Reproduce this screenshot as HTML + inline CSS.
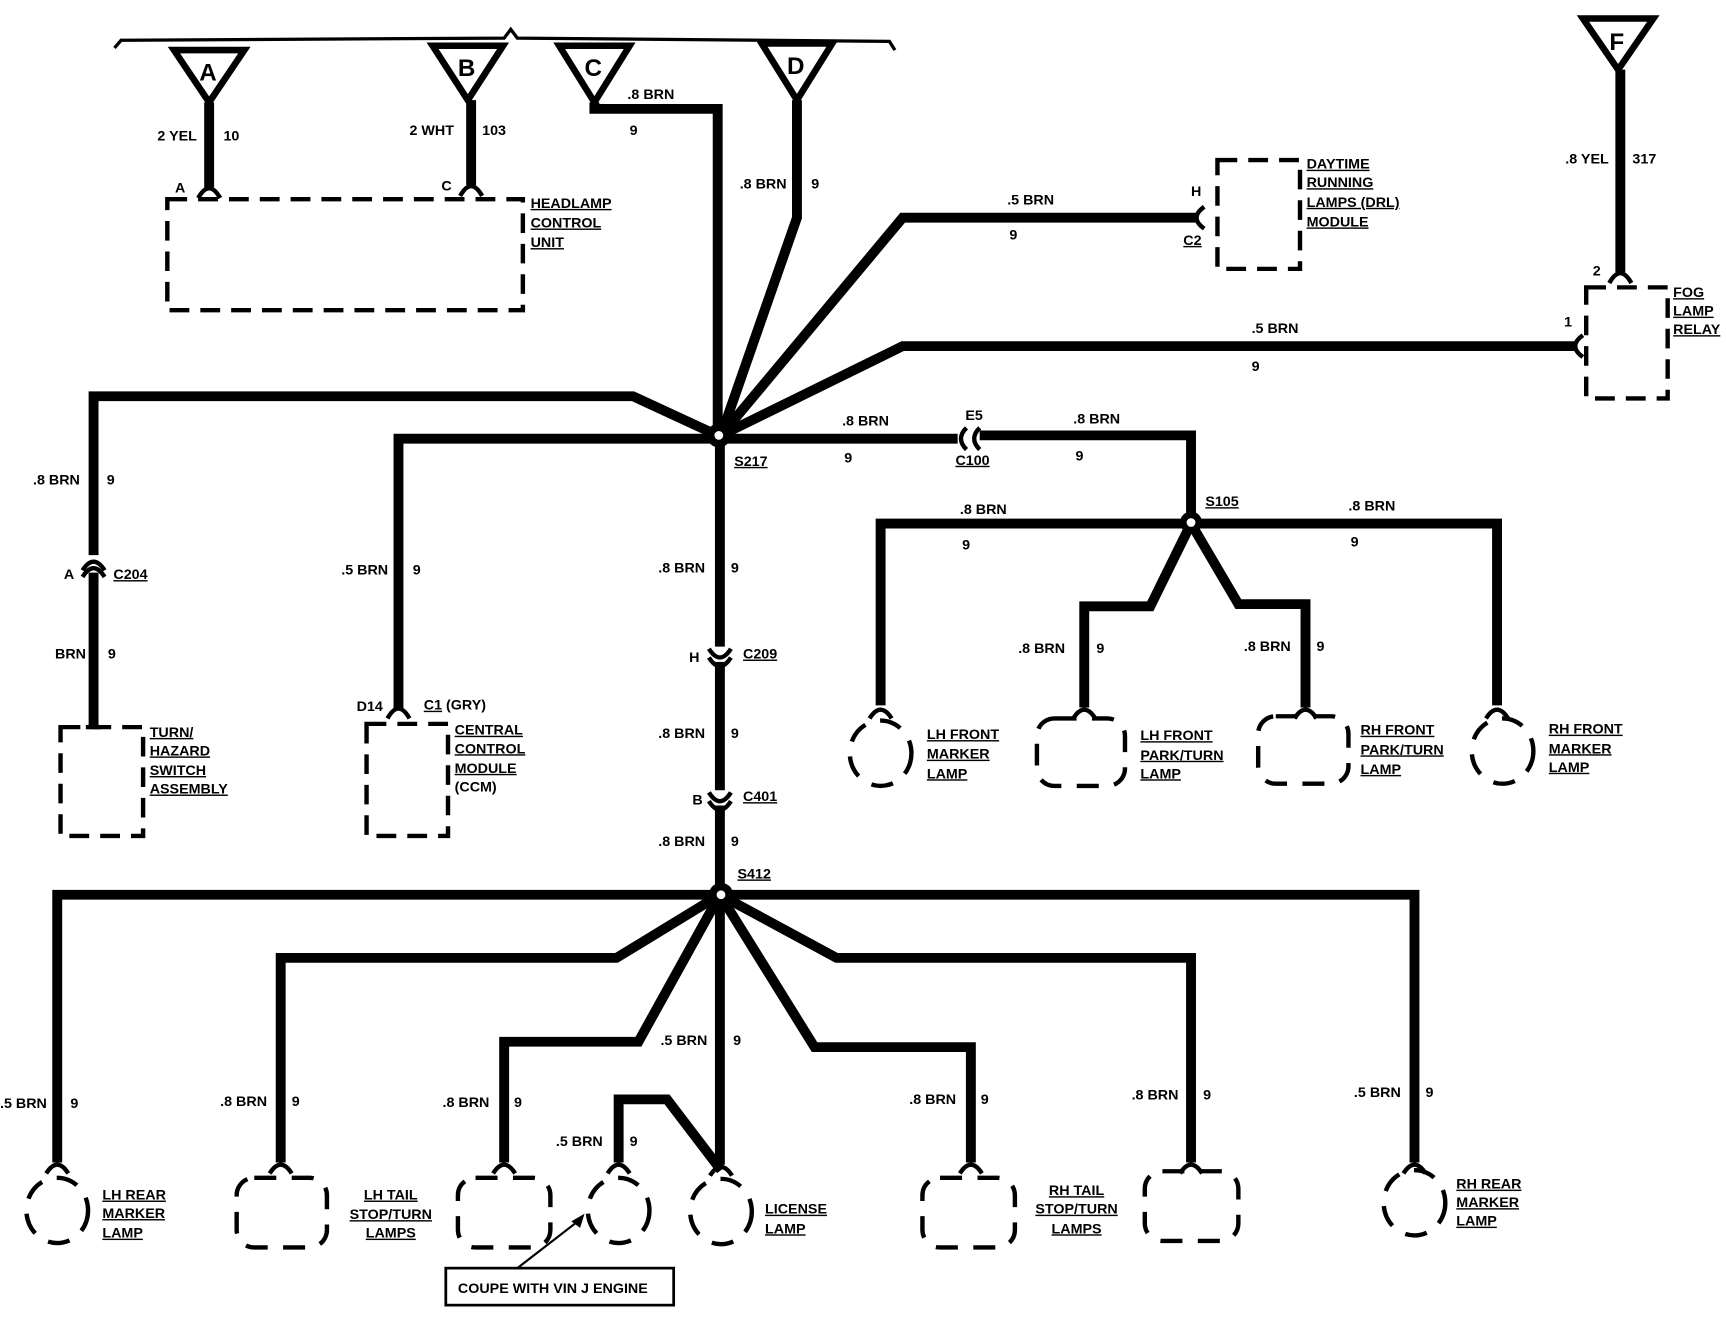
<!DOCTYPE html>
<html><head><meta charset="utf-8"><style>
html,body{margin:0;padding:0;background:#fff;}
svg{display:block;}
text{font-family:"Liberation Sans",sans-serif;font-weight:bold;font-size:13px;fill:#000;}
.u{text-decoration:underline;}
.w{fill:none;stroke:#000;stroke-width:9;stroke-linejoin:miter;}
.d{fill:none;stroke:#000;stroke-width:4;stroke-dasharray:18 10;}
.c{fill:none;stroke:#000;stroke-width:4;}
</style></head><body>
<svg width="1726" height="1328" viewBox="0 0 1568 1220" preserveAspectRatio="none" xmlns="http://www.w3.org/2000/svg">
<!-- top bus -->
<path d="M104,44 L110,37 L458,35 L464,27 L470,35 L808,38 L813,46" fill="none" stroke="#000" stroke-width="3"/>
<!-- triangles -->
<g fill="none" stroke="#000" stroke-width="6">
<path d="M158,46 L222,46 L190,94 Z"/><path d="M393,42 L457,42 L425,92 Z"/>
<path d="M508,42 L572,42 L540,94 Z"/><path d="M692,40 L756,40 L724,92 Z"/>
<path d="M1438,17 L1502,17 L1470,64 Z"/>
</g>
<g font-size="22"><text x="181" y="74" style="font-size:22px">A</text><text x="416" y="70" style="font-size:22px">B</text><text x="531" y="70" style="font-size:22px">C</text><text x="715" y="68" style="font-size:22px">D</text><text x="1462" y="46" style="font-size:22px">F</text></g>
<!-- wires -->
<path class="w" d="M190,94 V172"/><path class="w" d="M428,92 V170"/>
<path class="w" d="M540,94 V100 H652 V400"/>
<path class="w" d="M724,92 V200 L655,400"/>
<path class="w" d="M655,400 L820,200 H1086"/>
<path class="w" d="M655,400 L820,318 H1430"/>
<path class="w" d="M1472,64 V250"/>
<path class="w" d="M652,400 L575,364 H85 V510"/><path class="w" d="M85,526 V668"/>
<path class="w" d="M652,403 H362 V652"/>
<path class="w" d="M654,400 V594"/><path class="w" d="M654,608 V726"/><path class="w" d="M654,740 V822"/>
<path class="w" d="M654,403 H870"/><path class="w" d="M890,400 H1082 V480"/>
<path class="w" d="M1082,481 H800 V648"/><path class="w" d="M1082,481 H1360 V648"/>
<path class="w" d="M1082,481 L1045,557 H985 V650"/><path class="w" d="M1082,481 L1125,555 H1186 V650"/>
<path class="w" d="M654,822 H52 V1068"/>
<path class="w" d="M654,822 L560,880 H255 V1068"/>
<path class="w" d="M654,822 L580,957 H458 V1068"/>
<path class="w" d="M654,822 V1070"/>
<path class="w" d="M562,1068 V1010 H606 L655,1075"/>
<path class="w" d="M654,822 L740,962 H882 V1068"/>
<path class="w" d="M654,822 L760,880 H1082 V1068"/>
<path class="w" d="M654,822 H1285 V1068"/>
<!-- splices -->
<g fill="#000"><circle cx="653" cy="400" r="11"/><circle cx="1082" cy="480" r="10"/><circle cx="655" cy="822" r="11"/></g>
<g fill="#fff"><circle cx="653" cy="400" r="4"/><circle cx="1082" cy="480" r="4"/><circle cx="655" cy="822" r="4"/></g>
<!-- connectors ^ -->
<g class="c">
<path d="M180,182 Q190,164 200,182"/><path d="M418,180 Q428,162 438,180"/>
<path d="M1462,260 Q1472,242 1482,260"/>
<path d="M352,660 Q362,642 372,660"/>
<path d="M75,524 Q85,508 95,524"/><path d="M75,530 Q85,514 95,530"/>
<path d="M644,596 Q654,612 664,596"/><path d="M644,604 Q654,620 664,604"/>
<path d="M644,728 Q654,744 664,728"/><path d="M644,736 Q654,752 664,736"/>
<path d="M1094,190 Q1080,200 1094,210"/><path d="M1438,308 Q1424,318 1438,328"/>
<path d="M878,393 Q868,403 878,413"/><path d="M890,393 Q880,403 890,413"/>
</g>
<path d="M78,668 H92" stroke="#000" stroke-width="4"/>
<!-- device boxes -->
<rect class="d" x="152" y="183" width="323" height="102"/>
<rect class="d" x="1106" y="147" width="75" height="100"/>
<rect class="d" x="1441" y="264" width="74" height="102"/>
<rect class="d" x="55" y="668" width="75" height="100"/>
<rect class="d" x="333" y="665" width="74" height="103"/>
<!-- lamps -->
<g class="c">
<path d="M790,660 Q800,644 810,660"/><path d="M975,660 Q985,644 995,660"/><path d="M1176,660 Q1186,644 1196,660"/><path d="M1350,660 Q1360,644 1370,660"/>
<path d="M42,1078 Q52,1062 62,1078"/><path d="M245,1078 Q255,1062 265,1078"/><path d="M448,1078 Q458,1062 468,1078"/><path d="M552,1078 Q562,1062 572,1078"/><path d="M645,1080 Q655,1064 665,1080"/><path d="M872,1078 Q882,1062 892,1078"/><path d="M1072,1078 Q1082,1062 1092,1078"/><path d="M1275,1078 Q1285,1062 1295,1078"/>
</g>
<g class="d" style="stroke-dasharray:20 14">
<ellipse cx="800" cy="692" rx="28" ry="30"/><ellipse cx="1365" cy="690" rx="28" ry="30"/>
<rect x="942" y="660" width="80" height="62" rx="16"/><rect x="1143" y="658" width="82" height="62" rx="16"/>
<ellipse cx="52" cy="1112" rx="28" ry="30"/><ellipse cx="562" cy="1112" rx="28" ry="30"/><ellipse cx="655" cy="1113" rx="28" ry="30"/><ellipse cx="1285" cy="1105" rx="28" ry="30"/>
<rect x="215" y="1082" width="82" height="64" rx="16"/><rect x="416" y="1082" width="84" height="64" rx="16"/><rect x="838" y="1082" width="84" height="64" rx="16"/><rect x="1040" y="1076" width="85" height="64" rx="16"/>
</g>
<!-- coupe box -->
<rect x="405" y="1165" width="207" height="34" fill="none" stroke="#000" stroke-width="2.5"/>
<text x="416" y="1188">COUPE WITH VIN J ENGINE</text>
<path d="M470,1165 L525,1122" stroke="#000" stroke-width="2"/><path d="M531,1115 L519,1122 L527,1128 Z" fill="#000"/>
<!-- labels -->
<text x="143" y="129">2 YEL</text><text x="203" y="129">10</text>
<text x="372" y="124">2 WHT</text><text x="438" y="124">103</text>
<text x="159" y="177">A</text><text x="401" y="175">C</text>
<text class="u" x="482" y="191">HEADLAMP</text><text class="u" x="482" y="209">CONTROL</text><text class="u" x="482" y="227">UNIT</text>
<text x="570" y="91">.8 BRN</text><text x="572" y="124">9</text>
<text x="672" y="173">.8 BRN</text><text x="737" y="173">9</text>
<text x="915" y="188">.5 BRN</text><text x="917" y="220">9</text>
<text x="1082" y="180">H</text><text class="u" x="1075" y="225">C2</text>
<text class="u" x="1187" y="155">DAYTIME</text><text class="u" x="1187" y="172">RUNNING</text><text class="u" x="1187" y="190">LAMPS (DRL)</text><text class="u" x="1187" y="208">MODULE</text>
<text x="1422" y="150">.8 YEL</text><text x="1483" y="150">317</text><text x="1447" y="253">2</text><text x="1421" y="300">1</text>
<text class="u" x="1520" y="273">FOG</text><text class="u" x="1520" y="290">LAMP</text><text class="u" x="1520" y="307">RELAY</text>
<text x="1137" y="306">.5 BRN</text><text x="1137" y="341">9</text>
<text x="30" y="445">.8 BRN</text><text x="97" y="445">9</text>
<text x="58" y="532">A</text><text class="u" x="103" y="532">C204</text>
<text x="50" y="605">BRN</text><text x="98" y="605">9</text>
<text class="u" x="136" y="677">TURN/</text><text class="u" x="136" y="694">HAZARD</text><text class="u" x="136" y="712">SWITCH</text><text class="u" x="136" y="729">ASSEMBLY</text>
<text x="310" y="528">.5 BRN</text><text x="375" y="528">9</text>
<text x="324" y="653">D14</text><text x="385" y="652"><tspan class="u">C1</tspan> (GRY)</text>
<text class="u" x="413" y="675">CENTRAL</text><text class="u" x="413" y="692">CONTROL</text><text class="u" x="413" y="710">MODULE</text><text x="413" y="727">(CCM)</text>
<text class="u" x="667" y="428">S217</text>
<text x="598" y="526">.8 BRN</text><text x="664" y="526">9</text>
<text x="626" y="608">H</text><text class="u" x="675" y="605">C209</text>
<text x="598" y="678">.8 BRN</text><text x="664" y="678">9</text>
<text x="629" y="739">B</text><text class="u" x="675" y="736">C401</text>
<text x="598" y="777">.8 BRN</text><text x="664" y="777">9</text>
<text class="u" x="670" y="807">S412</text>
<text x="765" y="391">.8 BRN</text><text x="767" y="425">9</text>
<text x="877" y="386">E5</text><text class="u" x="868" y="427">C100</text>
<text x="975" y="389">.8 BRN</text><text x="977" y="423">9</text>
<text class="u" x="1095" y="465">S105</text>
<text x="872" y="472">.8 BRN</text><text x="874" y="505">9</text>
<text x="1225" y="469">.8 BRN</text><text x="1227" y="502">9</text>
<text x="925" y="600">.8 BRN</text><text x="996" y="600">9</text>
<text x="1130" y="598">.8 BRN</text><text x="1196" y="598">9</text>
<text class="u" x="842" y="679">LH FRONT</text><text class="u" x="842" y="697">MARKER</text><text class="u" x="842" y="715">LAMP</text>
<text class="u" x="1036" y="680">LH FRONT</text><text class="u" x="1036" y="698">PARK/TURN</text><text class="u" x="1036" y="715">LAMP</text>
<text class="u" x="1236" y="675">RH FRONT</text><text class="u" x="1236" y="693">PARK/TURN</text><text class="u" x="1236" y="711">LAMP</text>
<text class="u" x="1407" y="674">RH FRONT</text><text class="u" x="1407" y="692">MARKER</text><text class="u" x="1407" y="709">LAMP</text>
<text x="0" y="1018">.5 BRN</text><text x="64" y="1018">9</text>
<text x="200" y="1016">.8 BRN</text><text x="265" y="1016">9</text>
<text x="402" y="1017">.8 BRN</text><text x="467" y="1017">9</text>
<text x="600" y="960">.5 BRN</text><text x="666" y="960">9</text>
<text x="505" y="1053">.5 BRN</text><text x="572" y="1053">9</text>
<text x="826" y="1014">.8 BRN</text><text x="891" y="1014">9</text>
<text x="1028" y="1010">.8 BRN</text><text x="1093" y="1010">9</text>
<text x="1230" y="1008">.5 BRN</text><text x="1295" y="1008">9</text>
<text class="u" x="93" y="1102">LH REAR</text><text class="u" x="93" y="1119">MARKER</text><text class="u" x="93" y="1137">LAMP</text>
<text class="u" x="355" y="1102" text-anchor="middle">LH TAIL</text><text class="u" x="355" y="1120" text-anchor="middle">STOP/TURN</text><text class="u" x="355" y="1137" text-anchor="middle">LAMPS</text>
<text class="u" x="695" y="1115">LICENSE</text><text class="u" x="695" y="1133">LAMP</text>
<text class="u" x="978" y="1098" text-anchor="middle">RH TAIL</text><text class="u" x="978" y="1115" text-anchor="middle">STOP/TURN</text><text class="u" x="978" y="1133" text-anchor="middle">LAMPS</text>
<text class="u" x="1323" y="1092">RH REAR</text><text class="u" x="1323" y="1109">MARKER</text><text class="u" x="1323" y="1126">LAMP</text>
</svg>
</body></html>
